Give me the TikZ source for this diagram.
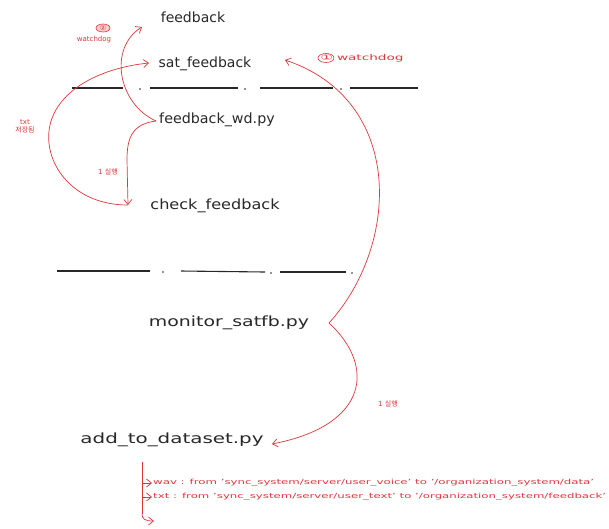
\documentclass[tikz,border=0pt]{standalone}
\usepackage{fontspec}
\usetikzlibrary{arrows.meta}
\setsansfont{DejaVu Sans}
\newfontfamily\kr{Noto Sans CJK KR}
\definecolor{hred}{RGB}{222,55,60}
\definecolor{ink}{RGB}{40,40,40}
\tikzset{
  lbl/.style={font=\fontsize{14}{16}\selectfont\sffamily, text=ink, inner sep=1pt},
  note/.style={font=\fontsize{7}{8}\selectfont\sffamily, text=hred, inner sep=1pt},
  rarr/.style={draw=hred, line width=0.7pt, -{Straight Barb[length=5pt,width=8pt]}},
  rline/.style={draw=hred, line width=0.7pt},
  sep/.style={draw=ink, line width=1.1pt},
  dotm/.style={fill=ink, circle, inner sep=0.6pt}
}
\begin{document}
\begin{tikzpicture}[x=1pt,y=-1pt]
\useasboundingbox (0,0) rectangle (609,528);
\fill[white] (0,0) rectangle (609,528);
% main labels
\node[lbl] (fb) at (193,17) {feedback};
\node[lbl] (sat) at (205,64) {sat\_feedback};
\node[lbl] (wd) at (217,120) {\scalebox{1.02}[1]{feedback\_wd.py}};
\node[lbl] (chk) at (215,206) {\scalebox{1.15}[1]{check\_feedback}};
\node[lbl] (mon) at (229,323) {\scalebox{1.35}[1]{monitor\_satfb.py}};
\node[lbl] (add) at (172,440) {\scalebox{1.42}[1]{add\_to\_dataset.py}};
% separator lines
\draw[sep] (72,88) -- (123,88);
\node[dotm] (d1) at (140,89) {};
\draw[sep] (150,88) -- (238,88);
\node[dotm] (d2) at (245,89) {};
\draw[sep] (260,88) -- (333,88);
\node[dotm] (d3) at (341,89) {};
\draw[sep] (350,88) -- (418,88);
\draw[sep] (57,271) -- (150,271);
\node[dotm] (d4) at (163,272) {};
\draw[sep] (181,271) -- (265,272);
\node[dotm] (d5) at (271,273) {};
\draw[sep] (280,272) -- (346,272);
\node[dotm] (d6) at (352,273) {};
% coordinates
\coordinate (wdout) at (156,121);
\coordinate (chkin) at (128,205);
\coordinate (fbin) at (142,27);
\coordinate (satin) at (149,63);
\coordinate (satright) at (285,60);
\coordinate (k) at (329,323);
\coordinate (addin) at (272,444);
% top-left connectors
\draw[rarr] (wdout) .. controls (118,104) and (108,48) .. (fbin);
\draw[rarr] (wdout) .. controls (132,124) and (127,138) .. (127,160) -- (chkin);
\draw[rarr] (chkin) .. controls (70,205) and (42,160) .. (50,125) .. controls (58,90) and (100,68) .. (satin);
% big right curves
\draw[rarr] (k) .. controls (400,245) and (405,100) .. (satright);
\draw[rarr] (k) .. controls (375,365) and (370,425) .. (addin);
% red notes
\node[note] (n1) at (362,58) {\scalebox{1.7}[1]{\fontsize{8}{9}\selectfont ① watchdog}};
\draw[hred, line width=0.6pt] (326,58) ellipse (8pt and 4.5pt);
\node[note] (n2a) at (103,28) {②};
\draw[hred, line width=0.6pt, fill=hred!25] (103,28) ellipse (7pt and 4pt);
\node[note] at (103,28) {②};
\node[note] (n2b) at (94,40) {watchdog};
\node[note, align=center] (n3) at (25,126) {txt\\{\kr 저장됨}};
\node[note] (n4) at (108,172) {1 {\kr 실행}};
\node[note] (n5) at (388,404) {1 {\kr 실행}};
% bottom branches
\coordinate (br) at (142,462);
\node[note, anchor=west] (t1) at (152,483) {\scalebox{1.68}[1]{wav : from 'sync\_system/server/user\_voice' to '/organization\_system/data'}};
\node[note, anchor=west] (t2) at (152,497) {\scalebox{1.68}[1]{txt : from 'sync\_system/server/user\_text' to '/organization\_system/feedback'}};
\coordinate (t3) at (154,521);
\draw[rline] (br) -- (142,514);
\draw[rarr] (142,514) .. controls (142,519) and (145,521) .. (t3);
\draw[rarr] (142,483) -- (t1.west);
\draw[rarr] (142,497) -- (t2.west);
\end{tikzpicture}
\end{document}
